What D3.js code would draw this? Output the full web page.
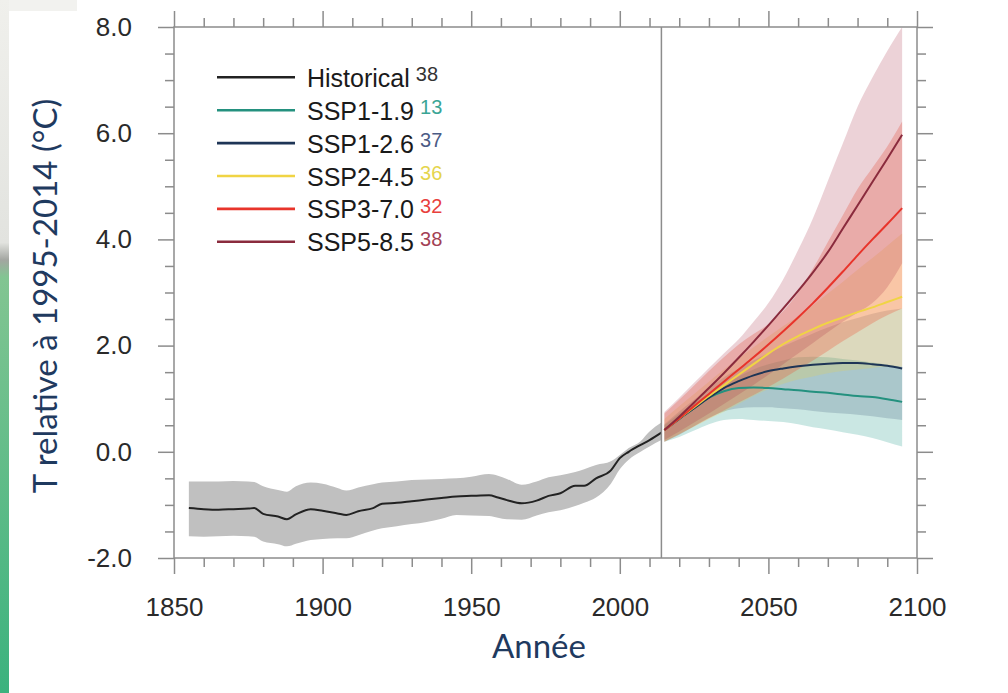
<!DOCTYPE html>
<html>
<head>
<meta charset="utf-8">
<script src="https://cdn.jsdelivr.net/npm/d3@7"></script>
<style>
  html, body { margin: 0; padding: 0; background: #fff; }
  svg { display: block; }
</style>
</head>
<body>
<svg id="chart" width="1008" height="693"></svg>
<script>
"use strict";
// Global temperature change relative to 1995-2014, historical + SSP projections

// ---- data ----
const histYears = [1855, 1860, 1865, 1870, 1875, 1877, 1880, 1885, 1888, 1891,
  1896, 1900, 1905, 1908, 1912, 1917, 1920, 1925, 1930, 1935,
  1940, 1945, 1950, 1956, 1959, 1962, 1967, 1972, 1976, 1980,
  1985, 1988, 1992, 1997, 2000, 2003, 2007, 2010, 2014];
const histMean = [-1.06, -1.08, -1.09, -1.08, -1.07, -1.06, -1.17, -1.22, -1.27, -1.18,
  -1.08, -1.11, -1.16, -1.19, -1.12, -1.06, -0.98, -0.96, -0.93, -0.90,
  -0.87, -0.84, -0.83, -0.82, -0.86, -0.91, -0.97, -0.92, -0.83, -0.78,
  -0.64, -0.64, -0.50, -0.35, -0.12, 0.00, 0.13, 0.22, 0.36];
const histLow = [-1.59, -1.60, -1.59, -1.58, -1.59, -1.60, -1.69, -1.74, -1.78, -1.73,
  -1.66, -1.64, -1.63, -1.63, -1.57, -1.48, -1.44, -1.40, -1.36, -1.32,
  -1.26, -1.19, -1.20, -1.21, -1.24, -1.27, -1.28, -1.20, -1.14, -1.10,
  -1.02, -0.96, -0.86, -0.60, -0.33, -0.15, 0.00, 0.10, 0.22];
const histHigh = [-0.56, -0.56, -0.56, -0.55, -0.56, -0.57, -0.65, -0.72, -0.75, -0.65,
  -0.58, -0.60, -0.68, -0.73, -0.67, -0.61, -0.58, -0.56, -0.53, -0.52,
  -0.51, -0.50, -0.47, -0.42, -0.45, -0.51, -0.62, -0.56, -0.48, -0.44,
  -0.38, -0.33, -0.25, -0.18, -0.06, 0.07, 0.20, 0.38, 0.55];

const projYears = [2015, 2020, 2025, 2030, 2035, 2040, 2045, 2050, 2055,
  2060, 2065, 2070, 2075, 2080, 2085, 2090, 2095];

const ssp119Mean = [0.41, 0.62, 0.82, 1.02, 1.14, 1.20, 1.21, 1.20, 1.18, 1.16, 1.13, 1.11, 1.08, 1.05, 1.03, 0.99, 0.94];
const ssp119Low  = [0.19, 0.28, 0.40, 0.52, 0.60, 0.62, 0.60, 0.58, 0.56, 0.52, 0.46, 0.42, 0.37, 0.32, 0.26, 0.18, 0.10];
const ssp119High = [0.50, 0.72, 0.92, 1.10, 1.28, 1.42, 1.55, 1.65, 1.72, 1.78, 1.79, 1.78, 1.75, 1.72, 1.68, 1.64, 1.60];

const ssp126Mean = [0.41, 0.62, 0.82, 1.02, 1.20, 1.33, 1.44, 1.52, 1.57, 1.61, 1.64, 1.66, 1.67, 1.67, 1.65, 1.62, 1.57];
const ssp126Low  = [0.19, 0.32, 0.48, 0.64, 0.76, 0.82, 0.84, 0.84, 0.82, 0.80, 0.77, 0.74, 0.72, 0.70, 0.67, 0.63, 0.60];
const ssp126High = [0.52, 0.76, 0.98, 1.20, 1.40, 1.57, 1.72, 1.86, 1.99, 2.11, 2.23, 2.34, 2.44, 2.52, 2.60, 2.66, 2.70];

const ssp245Mean = [0.41, 0.63, 0.84, 1.05, 1.25, 1.45, 1.65, 1.85, 2.03, 2.18, 2.31, 2.43, 2.53, 2.63, 2.72, 2.82, 2.92];
const ssp245Low  = [0.19, 0.33, 0.47, 0.62, 0.75, 0.90, 1.05, 1.18, 1.28, 1.36, 1.42, 1.48, 1.52, 1.55, 1.58, 1.60, 1.60];
const ssp245High = [0.62, 0.86, 1.09, 1.32, 1.55, 1.76, 1.97, 2.17, 2.37, 2.55, 2.76, 2.98, 3.20, 3.43, 3.65, 3.88, 4.11];

const ssp370Mean = [0.41, 0.63, 0.86, 1.09, 1.32, 1.55, 1.78, 2.02, 2.27, 2.53, 2.80, 3.09, 3.39, 3.70, 4.00, 4.29, 4.59];
const ssp370Low  = [0.19, 0.33, 0.48, 0.63, 0.78, 0.93, 1.07, 1.22, 1.38, 1.55, 1.72, 1.90, 2.08, 2.25, 2.42, 2.57, 2.70];
const ssp370High = [0.72, 0.98, 1.25, 1.52, 1.78, 2.02, 2.22, 2.40, 2.65, 3.00, 3.45, 3.95, 4.45, 4.95, 5.35, 5.75, 6.22];

const ssp585Mean = [0.41, 0.66, 0.93, 1.20, 1.48, 1.77, 2.07, 2.38, 2.70, 3.03, 3.38, 3.76, 4.20, 4.64, 5.08, 5.52, 5.97];
const ssp585Low  = [0.22, 0.38, 0.55, 0.72, 0.90, 1.08, 1.26, 1.45, 1.65, 1.85, 2.05, 2.25, 2.45, 2.62, 2.80, 3.10, 3.55];
const ssp585High = [0.75, 1.02, 1.30, 1.58, 1.85, 2.12, 2.45, 2.80, 3.25, 3.80, 4.40, 5.10, 5.80, 6.50, 7.05, 7.55, 8.00];

const legendNames  = ['Historical', 'SSP1-1.9', 'SSP1-2.6', 'SSP2-4.5', 'SSP3-7.0', 'SSP5-8.5'];
const legendCounts = [38, 13, 37, 36, 32, 38];
const lineColors   = ['#222222', '#24917f', '#1e3556', '#f0d444', '#e8342b', '#8a2b3d'];
const countColors  = ['#333333', '#3aa595', '#4b5b85', '#e5d54d', '#e8403c', '#a34155'];

const xTicks = [1850, 1900, 1950, 2000, 2050, 2100];
const yTicks = [-2, 0, 2, 4, 6, 8];

// ---- layout ----
const svg = d3.select('#chart')
  .style('font-family', '"Liberation Sans", Arial, sans-serif');
const x = d3.scaleLinear().domain([1850, 2100]).range([174, 917]);
const y = d3.scaleLinear().domain([-2, 8]).range([558, 27]);
const AXIS_COLOR = '#8c8c8c';
const TITLE_COLOR = '#1f3a5f';

// slide background pieces on the far left
const defs = svg.append('defs');
const grad = defs.append('linearGradient')
  .attr('id', 'strip')
  .attr('gradientUnits', 'userSpaceOnUse')
  .attr('x1', 0).attr('y1', 0).attr('x2', 0).attr('y2', 693);
[[0, '#f0f0ec'], [0.35, '#e2e3df'], [0.375, '#a3a6a1'], [0.40, '#82c592'], [1, '#3bb27e']]
  .forEach(([o, c]) => grad.append('stop').attr('offset', o).attr('stop-color', c));
svg.append('rect').attr('x', 0).attr('y', 0).attr('width', 77).attr('height', 11).attr('fill', '#f2f2ef');
svg.append('rect').attr('x', 0).attr('y', 0).attr('width', 9).attr('height', 693).attr('fill', 'url(#strip)');

// ---- bands and lines ----
const plot = svg.append('g');

const histData = histYears.map((yr, i) => ({ yr, m: histMean[i], lo: histLow[i], hi: histHigh[i] }));

const area = d3.area()
  .x(d => x(d.yr))
  .y0(d => y(d.lo))
  .y1(d => y(d.hi))
  .curve(d3.curveMonotoneX);
const line = d3.line()
  .x(d => x(d.yr))
  .y(d => y(d.m))
  .curve(d3.curveMonotoneX);

plot.append('path')
  .datum(histData)
  .attr('d', area)
  .attr('fill', '#c0c0c0');

// projections, drawn low -> high so the warm bands sit on top
const scenarios = [
  { mean: ssp119Mean, lo: ssp119Low, hi: ssp119High, color: lineColors[1], fill: '#2aa091', alpha: 0.25 },
  { mean: ssp126Mean, lo: ssp126Low, hi: ssp126High, color: lineColors[2], fill: '#1d3a5f', alpha: 0.18 },
  { mean: ssp245Mean, lo: ssp245Low, hi: ssp245High, color: lineColors[3], fill: '#f2d23c', alpha: 0.22 },
  { mean: ssp370Mean, lo: ssp370Low, hi: ssp370High, color: lineColors[4], fill: '#f04a30', alpha: 0.28 },
  { mean: ssp585Mean, lo: ssp585Low, hi: ssp585High, color: lineColors[5], fill: '#a8304a', alpha: 0.22 }
];
scenarios.forEach(s => {
  s.data = projYears.map((yr, i) => ({ yr, m: s.mean[i], lo: s.lo[i], hi: s.hi[i] }));
});

for (const s of scenarios) {
  plot.append('path')
    .datum(s.data)
    .attr('d', area)
    .attr('fill', s.fill)
    .attr('fill-opacity', s.alpha);
}

plot.append('path')
  .datum(histData)
  .attr('d', line)
  .attr('fill', 'none')
  .attr('stroke', lineColors[0])
  .attr('stroke-width', 2);

for (const s of scenarios) {
  plot.append('path')
    .datum(s.data)
    .attr('d', line)
    .attr('fill', 'none')
    .attr('stroke', s.color)
    .attr('stroke-width', 2);
}

// reference year marker
svg.append('line')
  .attr('x1', x(2014)).attr('x2', x(2014))
  .attr('y1', y(8)).attr('y2', y(-2))
  .attr('stroke', AXIS_COLOR)
  .attr('stroke-width', 1.5);

// ---- axes (ticks point outward on all four sides) ----
const xMinor = d3.range(1850, 2101, 10).filter(v => !xTicks.includes(v));
const yMinor = d3.range(-2, 8.01, 0.5).filter(v => !yTicks.includes(v));

function styleAxis(g) {
  g.select('.domain').remove();
  g.selectAll('line').attr('stroke', AXIS_COLOR).attr('stroke-width', 1.5);
  g.selectAll('text').attr('fill', '#2a2a2a').style('font-size', '26px');
}

const axes = [
  { gen: () => d3.axisBottom(x), tr: `translate(0,${y(-2)})`, major: xTicks, minor: xMinor, fmt: d3.format('d'), pad: 24 },
  { gen: () => d3.axisTop(x), tr: `translate(0,${y(8)})`, major: xTicks, minor: xMinor, fmt: () => '', pad: 0 },
  { gen: () => d3.axisLeft(y), tr: `translate(${x(1850)},0)`, major: yTicks, minor: yMinor, fmt: d => d.toFixed(1), pad: 26 },
  { gen: () => d3.axisRight(y), tr: `translate(${x(2100)},0)`, major: yTicks, minor: yMinor, fmt: () => '', pad: 0 }
];
for (const a of axes) {
  svg.append('g')
    .attr('transform', a.tr)
    .call(a.gen().tickValues(a.minor).tickSize(9).tickFormat(''))
    .call(styleAxis);
  svg.append('g')
    .attr('transform', a.tr)
    .call(a.gen().tickValues(a.major).tickSize(16).tickPadding(a.pad).tickFormat(a.fmt))
    .call(styleAxis);
}

svg.append('rect')
  .attr('x', x(1850)).attr('y', y(8))
  .attr('width', x(2100) - x(1850))
  .attr('height', y(-2) - y(8))
  .attr('fill', 'none')
  .attr('stroke', AXIS_COLOR)
  .attr('stroke-width', 1.5);

// ---- legend ----
const legend = svg.append('g');
legendNames.forEach((name, i) => {
  const ly = 77.3 + i * 32.9;
  legend.append('line')
    .attr('x1', 217).attr('x2', 295)
    .attr('y1', ly).attr('y2', ly)
    .attr('stroke', lineColors[i])
    .attr('stroke-width', 2.6);
  const label = legend.append('text')
    .attr('x', 307).attr('y', ly + 9.5)
    .attr('fill', '#1a1a1a')
    .style('font-size', '25px')
    .text(name);
  const w = label.node().getComputedTextLength();
  legend.append('text')
    .attr('x', 307 + w + 6).attr('y', ly + 4)
    .attr('fill', countColors[i])
    .style('font-size', '20px')
    .text(legendCounts[i]);
});

// ---- axis titles ----
svg.append('text')
  .attr('transform', 'translate(57,296) rotate(-90)')
  .attr('text-anchor', 'middle')
  .attr('fill', TITLE_COLOR)
  .style('font-family', 'Lato, "Open Sans", sans-serif')
  .style('font-size', '33px')
  .text('T relative à 1995-2014 (°C)');

svg.append('text')
  .attr('x', 539).attr('y', 658)
  .attr('text-anchor', 'middle')
  .attr('fill', TITLE_COLOR)
  .style('font-family', 'Lato, "Open Sans", sans-serif')
  .style('font-size', '33px')
  .text('Année');
</script>
</body>
</html>
